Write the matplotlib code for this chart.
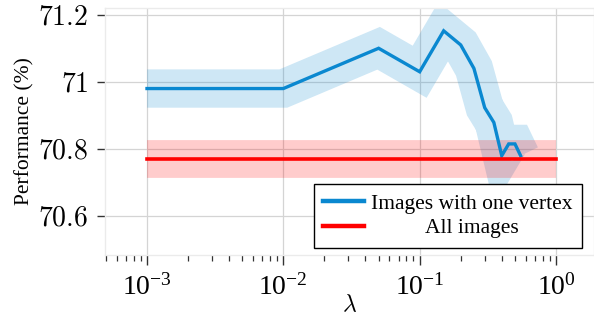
import numpy as np
import matplotlib
matplotlib.use("Agg")
import matplotlib.pyplot as plt

plt.rcParams['font.family'] = ['Liberation Serif', 'DejaVu Serif']
plt.rcParams['mathtext.fontset'] = 'cm'

# 数据：lambda 取值与对应的性能
lam = [0.001, 0.01, 0.05, 0.1, 0.15, 0.2, 0.25, 0.3, 0.35, 0.4, 0.45, 0.5, 0.55]
perf_one_vertex = [70.98, 70.98, 71.10, 71.03, 71.152, 71.11, 71.04, 70.923, 70.879, 70.78, 70.815, 70.815, 70.78]
lam_all = [0.001, 1.0]
perf_all = [70.771, 70.771]
yticks = [70.6, 70.8, 71.0, 71.2]

blue = '#0a88d0'
red = '#ff0000'

fig = plt.figure(figsize=(5.94, 3.16), dpi=100)
ax = fig.add_axes([105 / 594, 1 - 255 / 316, 1 - 105 / 594, (255 - 8) / 316])

# 阴影带用粗的半透明线画出
ax.plot(lam, perf_one_vertex, color=blue, alpha=0.2, lw=27.6,
        solid_capstyle='butt', solid_joinstyle='miter')
ax.plot(lam_all, perf_all, color=red, alpha=0.2, lw=27.2,
        solid_capstyle='butt', solid_joinstyle='miter')
ax.plot(lam, perf_one_vertex, color=blue, lw=2.4, label='Images with one vertex',
        solid_joinstyle='miter')
ax.plot(lam_all, perf_all, color=red, lw=2.6, label='All images')

ax.set_xscale('log')
ax.set_xlim(4.92e-4, 1.9)
ax.set_ylim(70.484, 71.22)
ax.set_yticks(yticks)
ax.set_yticklabels(['$%g$' % v for v in yticks])

ax.grid(True, which='major', color='#d4d4d4', lw=0.9)
ax.set_axisbelow(True)
for s in ax.spines.values():
    s.set_color('#ebebeb')
    s.set_linewidth(1.0)

ax.tick_params(axis='both', which='major', direction='out', color='#333333',
               labelsize=20, width=1.0)
ax.tick_params(axis='y', which='major', length=6, pad=6)
ax.tick_params(axis='x', which='major', length=7.5, pad=6)
ax.tick_params(axis='x', which='minor', direction='out', color='#333333',
               length=4.5, width=0.9)
ax.tick_params(axis='y', which='minor', length=0)

ax.set_xlabel(r'$\lambda$', fontsize=17, labelpad=-4)
ax.set_ylabel('Performance (%)', fontsize=15.5, labelpad=3)

leg = ax.legend(loc='lower right', bbox_to_anchor=(582 / 594, 1 - 248 / 316),
                bbox_transform=fig.transFigure, borderaxespad=0,
                fontsize=15.5, fancybox=False, framealpha=1, edgecolor='black',
                handlelength=1.9, handletextpad=0.3, labelspacing=0.2,
                borderpad=0.45)
leg.get_frame().set_linewidth(1.0)
for h in leg.get_lines():
    h.set_linewidth(3.2)

# 让图例文字居中
fig.canvas.draw()
texts = leg.get_texts()
widths = [t.get_window_extent().width for t in texts]
wmax = max(widths)
for t, w in zip(texts, widths):
    t.set_x((wmax - w) / 2)

fig.savefig('out.png', dpi=100)
